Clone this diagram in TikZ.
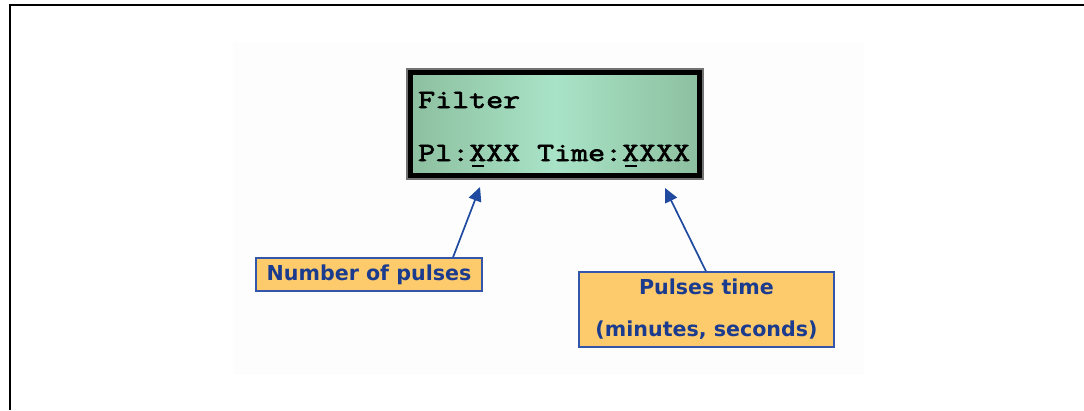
\documentclass[tikz,border=0pt]{standalone}
\usepackage{fontspec}
\usetikzlibrary{arrows.meta}
\newfontfamily\lcdfont[FakeStretch=1.25,FakeBold=2.6]{Latin Modern Mono}
\newfontfamily\tagfont{DejaVu Sans}
\definecolor{lcdedge}{HTML}{8CBF9F}
\definecolor{lcdmid}{HTML}{A9E3C7}
\definecolor{tagfill}{HTML}{FDCB6B}
\definecolor{tagline}{HTML}{3355AA}
\definecolor{tagtext}{HTML}{1B3B8F}
\definecolor{arrowblue}{HTML}{1F4AA0}
\definecolor{haze}{HTML}{FDFDFD}
% underlined cursor character on the display
\newcommand\cursorX{\makebox[0pt][l]{\hspace{3pt}\rule[-5.5pt]{11.5pt}{2pt}}X}
\tikzset{
  lcdtext/.style={anchor=base west, inner sep=0pt, font=\lcdfont\fontsize{26.4}{30}\selectfont},
  tag/.style={draw=tagline, line width=1.3pt, fill=tagfill, text=tagtext, inner sep=0pt,
    font=\tagfont\bfseries\fontsize{20.6}{42}\selectfont, align=center},
  pointer/.style={draw=arrowblue, line width=1.7pt, -{Triangle[length=14pt,width=13pt]}},
}
\begin{document}
\begin{tikzpicture}[x=1pt,y=-1pt]
\useasboundingbox (0,0) rectangle (1084,410);
% page frame
\draw[line width=1.4pt] (10,410) -- (10,5) -- (1084,5);
% light panel behind the figure
\fill[haze] (233,43) rectangle (864,375);
% display
\node (lcd) [minimum width=296pt, minimum height=110pt, inner sep=0pt,
  draw=black!55, line width=1.5pt] at (555,124) {};
\shade[left color=lcdedge, right color=lcdedge, middle color=lcdmid]
  (409,71) rectangle (701,177);
\draw[line width=4.5pt] (410.5,72.5) rectangle (699.5,175.5);
\node (line1) [lcdtext] at (418,108) {Filter};
\node (line2) [lcdtext] at (418,161) {Pl:\cursorX XX Time:\cursorX XXX};
% callouts
\node (pulses) [tag, minimum width=226pt, minimum height=33pt] at (369,274.5) {Number of pulses};
\node (ptime) [tag, minimum width=255pt, minimum height=75pt] at (706.5,309.5)
  {Pulses time\\(minutes, seconds)};
\coordinate (tipA) at (480,187);
\coordinate (tipB) at (665,188);
\draw[pointer] (pulses.north -| 453,0) -- (tipA);
\draw[pointer] (ptime.north -| 706,0) -- (tipB);
\end{tikzpicture}
\end{document}
